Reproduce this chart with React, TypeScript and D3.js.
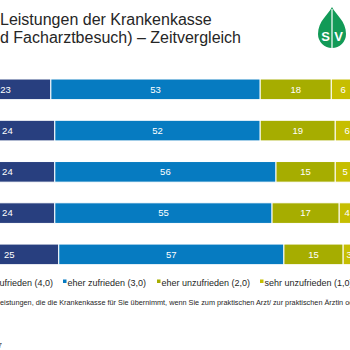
import { scaleBand, scaleLinear, select } from "d3";
import { useEffect, useRef } from "react";

// years are outside the visible crop, only used for the band scale
const categories = ["2017", "2015", "2013", "2011", "2009"];
const sehrZufrieden = [23, 24, 24, 24, 25];
const eherZufrieden = [53, 52, 56, 55, 57];
const eherUnzufrieden = [18, 19, 15, 17, 15];
const sehrUnzufrieden = [6, 6, 5, 4, 3];

const seriesNames = [
  "sehr zufrieden (4,0)",
  "eher zufrieden (3,0)",
  "eher unzufrieden (2,0)",
  "sehr unzufrieden (1,0)",
];
const seriesColors = ["#283f7f", "#067bc1", "#a6ad00", "#c6be00"];

export default function App() {
  const svgRef = useRef<SVGSVGElement | null>(null);

  useEffect(() => {
    if (!svgRef.current) return;
    const svg = select(svgRef.current);
    svg.selectAll("*").remove();

    const width = 350;
    const height = 350;
    svg.attr("width", width).attr("height", height);

    const series = [sehrZufrieden, eherZufrieden, eherUnzufrieden, sehrUnzufrieden];

    const xScale = scaleLinear().domain([0, 100]).range([-40, 355]);
    const yScale = scaleBand<string>()
      .domain(categories)
      .range([68.7, 275])
      .paddingInner(0.5)
      .paddingOuter(0.25);

    const font = "'Liberation Sans', Arial, sans-serif";

    // title (cropped)
    const title = svg.append("g").attr("font-family", font).attr("fill", "#262626");
    title.append("text").attr("x", 0).attr("y", 25).attr("font-size", 16).text("Leistungen der Krankenkasse");
    title
      .append("text")
      .attr("x", 0)
      .attr("y", 43)
      .attr("font-size", 16)
      .text("d Facharztbesuch) – Zeitvergleich");

    // stacked segments
    const stacks = categories.map((cat, i) => {
      let acc = 0;
      return series.map((s, k) => {
        const start = acc;
        acc += s[i];
        return { cat, k, start, end: acc, value: s[i] };
      });
    });

    const bars = svg.append("g");
    bars
      .selectAll("rect")
      .data(stacks.flat())
      .join("rect")
      .attr("x", (d) => xScale(d.start))
      .attr("width", (d) => xScale(d.end) - xScale(d.start))
      .attr("y", (d) => yScale(d.cat) ?? 0)
      .attr("height", yScale.bandwidth())
      .attr("fill", (d) => seriesColors[d.k])
      .attr("stroke", "#ffffff")
      .attr("stroke-width", 1);

    bars
      .selectAll("text")
      .data(stacks.flat())
      .join("text")
      .attr("x", (d) => (xScale(d.start) + xScale(d.end)) / 2)
      .attr("y", (d) => (yScale(d.cat) ?? 0) + yScale.bandwidth() / 2)
      .attr("dy", "0.35em")
      .attr("text-anchor", "middle")
      .attr("font-family", font)
      .attr("font-size", 9.5)
      .attr("fill", "#ffffff")
      .text((d) => d.value);

    // legend (first entry cut by the crop)
    const legendX = [53, 63, 157, 260];
    const legend = svg.append("g").attr("font-family", font).attr("font-size", 9).attr("fill", "#262626");
    seriesNames.forEach((name, k) => {
      if (k === 0) {
        legend.append("text").attr("x", legendX[k]).attr("y", 285.5).attr("text-anchor", "end").text(name);
        return;
      }
      legend
        .append("rect")
        .attr("x", legendX[k])
        .attr("y", 279.5)
        .attr("width", 3.5)
        .attr("height", 3.5)
        .attr("fill", seriesColors[k]);
      legend.append("text").attr("x", legendX[k] + 4.5).attr("y", 285.5).text(name);
    });

    // footnote
    svg
      .append("text")
      .attr("x", 0)
      .attr("y", 305)
      .attr("font-family", font)
      .attr("font-size", 7.3)
      .attr("fill", "#262626")
      .text("eistungen, die die Krankenkasse für Sie übernimmt, wenn Sie zum praktischen Arzt/ zur praktischen Ärztin oder");

    svg
      .append("text")
      .attr("x", -2)
      .attr("y", 348)
      .attr("font-family", font)
      .attr("font-size", 7)
      .attr("fill", "#262626")
      .text("7");

    // SV logo
    const cx = 332;
    const logo = svg.append("g");
    logo
      .append("path")
      .attr(
        "d",
        `M${cx},7 C${cx + 4},15 ${cx + 14},21 ${cx + 14},34 A14,14 0 0 1 ${cx - 14},34 C${cx - 14},21 ${cx - 4},15 ${cx},7 Z`,
      )
      .attr("fill", "#129a57");
    logo
      .append("line")
      .attr("x1", cx)
      .attr("x2", cx)
      .attr("y1", 9)
      .attr("y2", 48)
      .attr("stroke", "#ffffff")
      .attr("stroke-width", 1.2);
    logo
      .selectAll("text")
      .data(["S", "V"])
      .join("text")
      .attr("x", (_, i) => cx + (i === 0 ? -6.5 : 6.5))
      .attr("y", 41)
      .attr("text-anchor", "middle")
      .attr("font-family", font)
      .attr("font-weight", "bold")
      .attr("font-size", 13)
      .attr("fill", "#ffffff")
      .text((d) => d);
  }, []);

  return (
    <div style={{ position: "absolute", left: 0, top: 0 }}>
      <svg ref={svgRef} style={{ display: "block", background: "#ffffff" }} />
    </div>
  );
}
